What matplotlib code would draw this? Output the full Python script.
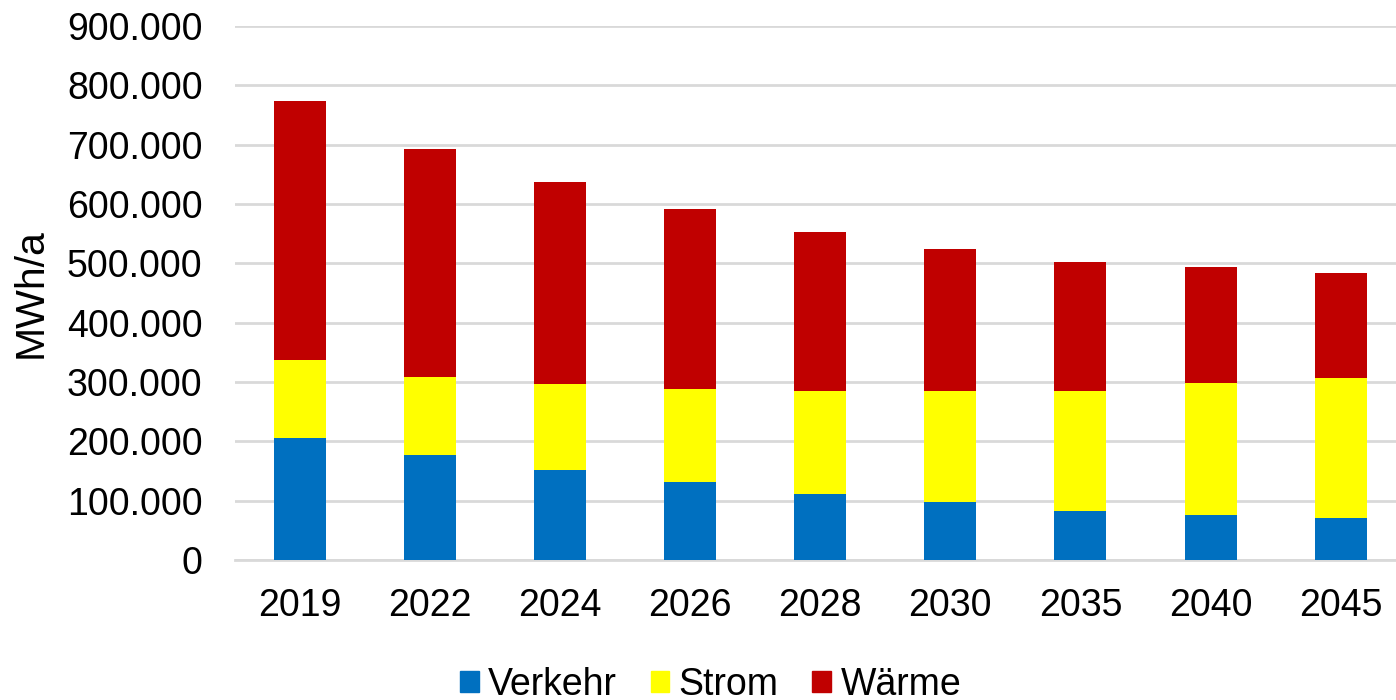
import matplotlib.pyplot as plt
import numpy as np
from matplotlib.ticker import FuncFormatter
from matplotlib.patches import Patch

plt.rcParams['font.family'] = ['Liberation Sans', 'DejaVu Sans']

jahre = ["2019", "2022", "2024", "2026", "2028", "2030", "2035", "2040", "2045"]
verkehr = [206000, 177000, 152000, 131000, 112000, 97000, 82000, 76000, 71000]
strom = [131000, 132000, 145000, 157000, 172000, 187000, 203000, 222000, 236000]
waerme = [436000, 383000, 340000, 303000, 269000, 240000, 217000, 195000, 176000]

farben = {"Verkehr": "#0070c0", "Strom": "#ffff00", "Wärme": "#c00000"}

fig = plt.figure(figsize=(13.96, 7.0), dpi=100)
ax = fig.add_axes([0.168, 0.2, 0.839, 0.763])

x = np.arange(len(jahre))
verkehr = np.array(verkehr)
strom = np.array(strom)
waerme = np.array(waerme)

ax.bar(x, verkehr, width=0.4, color=farben["Verkehr"], zorder=3)
ax.bar(x, strom, width=0.4, bottom=verkehr, color=farben["Strom"], zorder=3)
ax.bar(x, waerme, width=0.4, bottom=verkehr + strom, color=farben["Wärme"], zorder=3)

ax.set_xlim(-0.5, len(jahre) - 0.5)
ax.set_ylim(0, 900000)
ax.set_yticks(np.arange(0, 900001, 100000))
ax.yaxis.set_major_formatter(FuncFormatter(lambda v, p: f"{int(v):,}".replace(",", ".")))
ax.set_xticks(x)
ax.set_xticklabels(jahre)
ax.tick_params(axis="both", length=0, labelsize=27)
ax.tick_params(axis="x", pad=20.5)
ax.tick_params(axis="y", pad=23)

ax.grid(axis="y", color="#d9d9d9", linewidth=2, zorder=0)
for s in ["top", "right", "left"]:
    ax.spines[s].set_visible(False)
ax.spines["bottom"].set_color("#d9d9d9")
ax.spines["bottom"].set_linewidth(2)

fig.text(0.022, 0.582, "MWh/a", rotation=90, fontsize=29.5, va="center", ha="center")

handles = [Patch(color=c, label=k) for k, c in farben.items()]
fig.legend(handles=handles, loc="center", bbox_to_anchor=(0.509, 0.022), ncol=3,
           frameon=False, fontsize=27, handlelength=0.5, handleheight=0.5,
           handletextpad=0.25, columnspacing=0.9)

fig.savefig("out.png", dpi=100)
